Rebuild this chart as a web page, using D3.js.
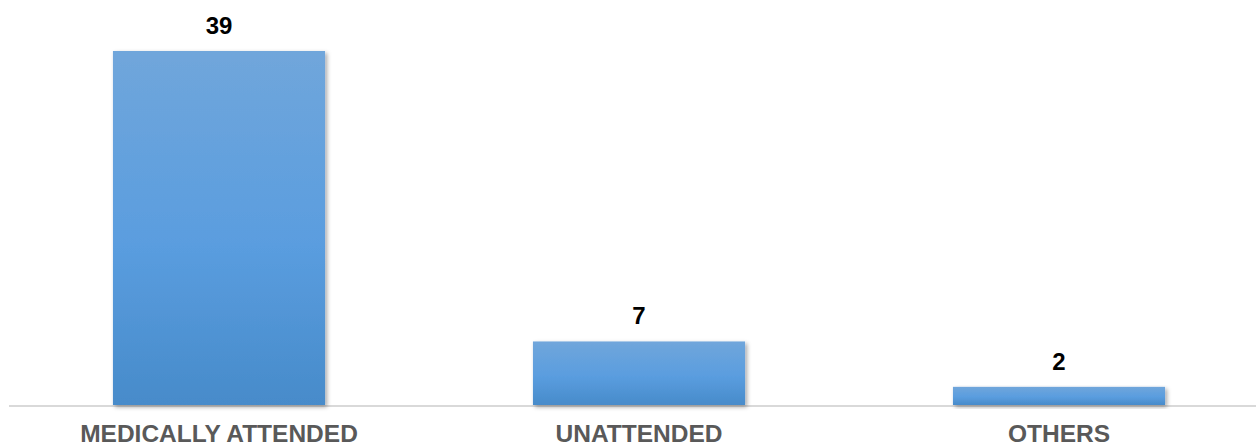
<!DOCTYPE html>
<html>
<head>
<meta charset="utf-8">
<script src="https://cdn.jsdelivr.net/npm/d3@7"></script>
<style>
  body { margin: 0; background: #fff; }
  svg { display: block; }
</style>
</head>
<body>
<div id="chart"></div>
<script>
var categories = ["MEDICALLY ATTENDED", "UNATTENDED", "OTHERS"];
var values = [39, 7, 2];

var width = 1256, height = 443;
var baseline = 405;

var svg = d3.select("#chart").append("svg")
    .attr("width", width)
    .attr("height", height);

var defs = svg.append("defs");
var grad = defs.append("linearGradient")
    .attr("id", "barGrad")
    .attr("x1", 0).attr("y1", 0).attr("x2", 0).attr("y2", 1);
grad.append("stop").attr("offset", "0%").attr("stop-color", "#70a6db");
grad.append("stop").attr("offset", "55%").attr("stop-color", "#5a9ddf");
grad.append("stop").attr("offset", "100%").attr("stop-color", "#478bca");

var shadow = defs.append("filter")
    .attr("id", "shadow")
    .attr("x", "-10%").attr("y", "-10%")
    .attr("width", "130%").attr("height", "130%");
shadow.append("feDropShadow")
    .attr("dx", 2).attr("dy", 2)
    .attr("stdDeviation", 2)
    .attr("flood-color", "#000")
    .attr("flood-opacity", 0.35);

var x = d3.scaleBand()
    .domain(categories)
    .range([9, 1269])
    .paddingInner(0.495)
    .paddingOuter(0.2475);

var y = d3.scaleLinear()
    .domain([0, 39])
    .range([baseline, 51]);

// axis line
svg.append("line")
    .attr("x1", 9).attr("x2", width)
    .attr("y1", baseline + 1).attr("y2", baseline + 1)
    .attr("stroke", "#d9d9d9")
    .attr("stroke-width", 2);

svg.selectAll("rect.bar")
    .data(values)
    .enter()
    .append("rect")
    .attr("class", "bar")
    .attr("x", function (d, i) { return x(categories[i]); })
    .attr("y", function (d) { return y(d); })
    .attr("width", x.bandwidth())
    .attr("height", function (d) { return baseline - y(d); })
    .attr("fill", "url(#barGrad)")
    .attr("filter", "url(#shadow)");

svg.selectAll("text.value")
    .data(values)
    .enter()
    .append("text")
    .attr("class", "value")
    .attr("x", function (d, i) { return x(categories[i]) + x.bandwidth() / 2; })
    .attr("y", function (d) { return y(d) - 17; })
    .attr("text-anchor", "middle")
    .style("font-family", "'Liberation Sans', Arial, sans-serif")
    .style("font-weight", "bold")
    .style("font-size", "24px")
    .attr("fill", "#000")
    .text(function (d) { return d; });

svg.selectAll("text.cat")
    .data(categories)
    .enter()
    .append("text")
    .attr("class", "cat")
    .attr("x", function (d) { return x(d) + x.bandwidth() / 2; })
    .attr("y", 442)
    .attr("text-anchor", "middle")
    .style("font-family", "'Liberation Sans', Arial, sans-serif")
    .style("font-weight", "bold")
    .style("font-size", "24.5px")
    .attr("fill", "#595959")
    .text(function (d) { return d; });
</script>
</body>
</html>
